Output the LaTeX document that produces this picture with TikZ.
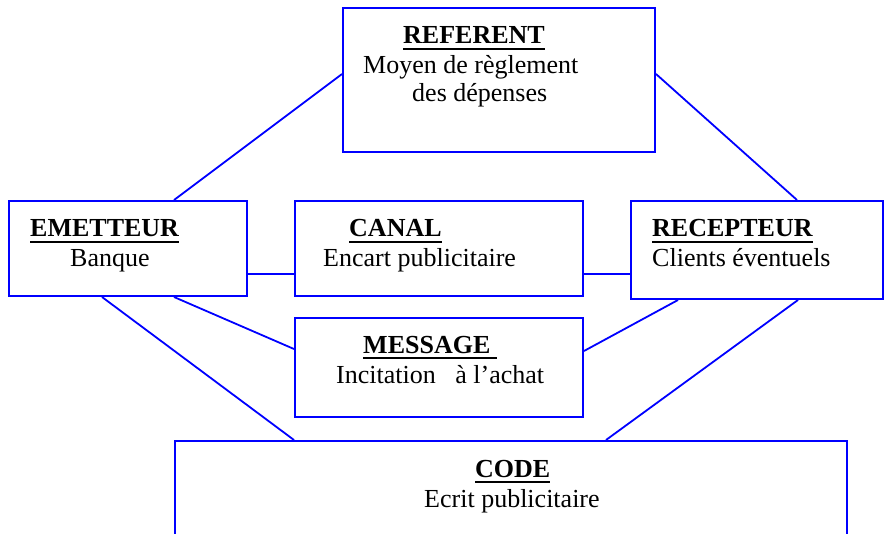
\documentclass[tikz,border=0pt]{standalone}
\usepackage{fontspec}
\setmainfont{Liberation Serif}
\usetikzlibrary{calc}
\definecolor{lineblue}{RGB}{0,0,255}
\newcommand\ultitle[1]{\setbox0\hbox{#1}\rlap{\vrule width\wd0 height -3.6pt depth 6.4pt}\box0}

\begin{document}
\begin{tikzpicture}[x=1pt,y=-1pt,
    box/.style={draw=lineblue,line width=2pt,inner sep=0pt},
    link/.style={lineblue,line width=1.8pt},
    title/.style={anchor=base west,inner sep=0pt,font=\fontsize{26}{29}\selectfont\bfseries},
    label/.style={anchor=base west,inner sep=0pt,font=\fontsize{26}{29}\selectfont}]
    \useasboundingbox (0,0) rectangle (885,534);
    % boxes
    \node[box,minimum width=312pt,minimum height=144pt] (ref) at (499,80) {};
    \node[box,minimum width=238pt,minimum height=95pt] (emet) at (128,248.5) {};
    \node[box,minimum width=288pt,minimum height=95pt] (canal) at (439,248.5) {};
    \node[box,minimum width=252pt,minimum height=98pt] (recep) at (757,250) {};
    \node[box,minimum width=288pt,minimum height=99pt] (mess) at (439,367.5) {};
    \node[box,minimum width=672pt,minimum height=118pt] (code) at (511,500) {};
    % texts
    \node[title] (ref-t) at (403,44) {\ultitle{REFERENT}};
    \node[label] (ref-l1) at (363,74) {Moyen de règlement};
    \node[label] (ref-l2) at (412,102) {des dépenses};
    \node[title] (emet-t) at (30,237) {\ultitle{EMETTEUR}};
    \node[label] (emet-l) at (70,267) {Banque};
    \node[title] (canal-t) at (349,237) {\ultitle{CANAL}};
    \node[label] (canal-l) at (323,267) {Encart publicitaire};
    \node[title] (recep-t) at (652,237) {\ultitle{RECEPTEUR}};
    \node[label] (recep-l) at (652,267) {Clients éventuels};
    \node[title] (mess-t) at (363,353) {\ultitle{MESSAGE\ }};
    \node[label] (mess-l) at (336,383) {Incitation~~~à l’achat};
    \node[title] (code-t) at (475,477) {\ultitle{CODE}};
    \node[label] (code-l) at (424,507) {Ecrit publicitaire};
    % links
    \draw[link] ($(emet.north west)+(166,0)$) -- ($(ref.north west)+(0,67)$);
    \draw[link] ($(ref.north east)+(0,67)$) -- ($(recep.north west)+(167,0)$);
    \draw[link] ($(emet.south east)+(0,-23)$) -- ($(canal.south west)+(0,-23)$);
    \draw[link] ($(canal.south east)+(0,-23)$) -- ($(recep.south west)+(0,-26)$);
    \draw[link] ($(emet.south west)+(166,0)$) -- ($(mess.north west)+(0,32)$);
    \draw[link] ($(mess.north east)+(0,34)$) -- ($(recep.south west)+(48,0)$);
    \draw[link] ($(emet.south west)+(94,0)$) -- ($(code.north west)+(120,0)$);
    \draw[link] ($(recep.south west)+(168,0)$) -- ($(code.north west)+(432,0)$);
\end{tikzpicture}
\end{document}
